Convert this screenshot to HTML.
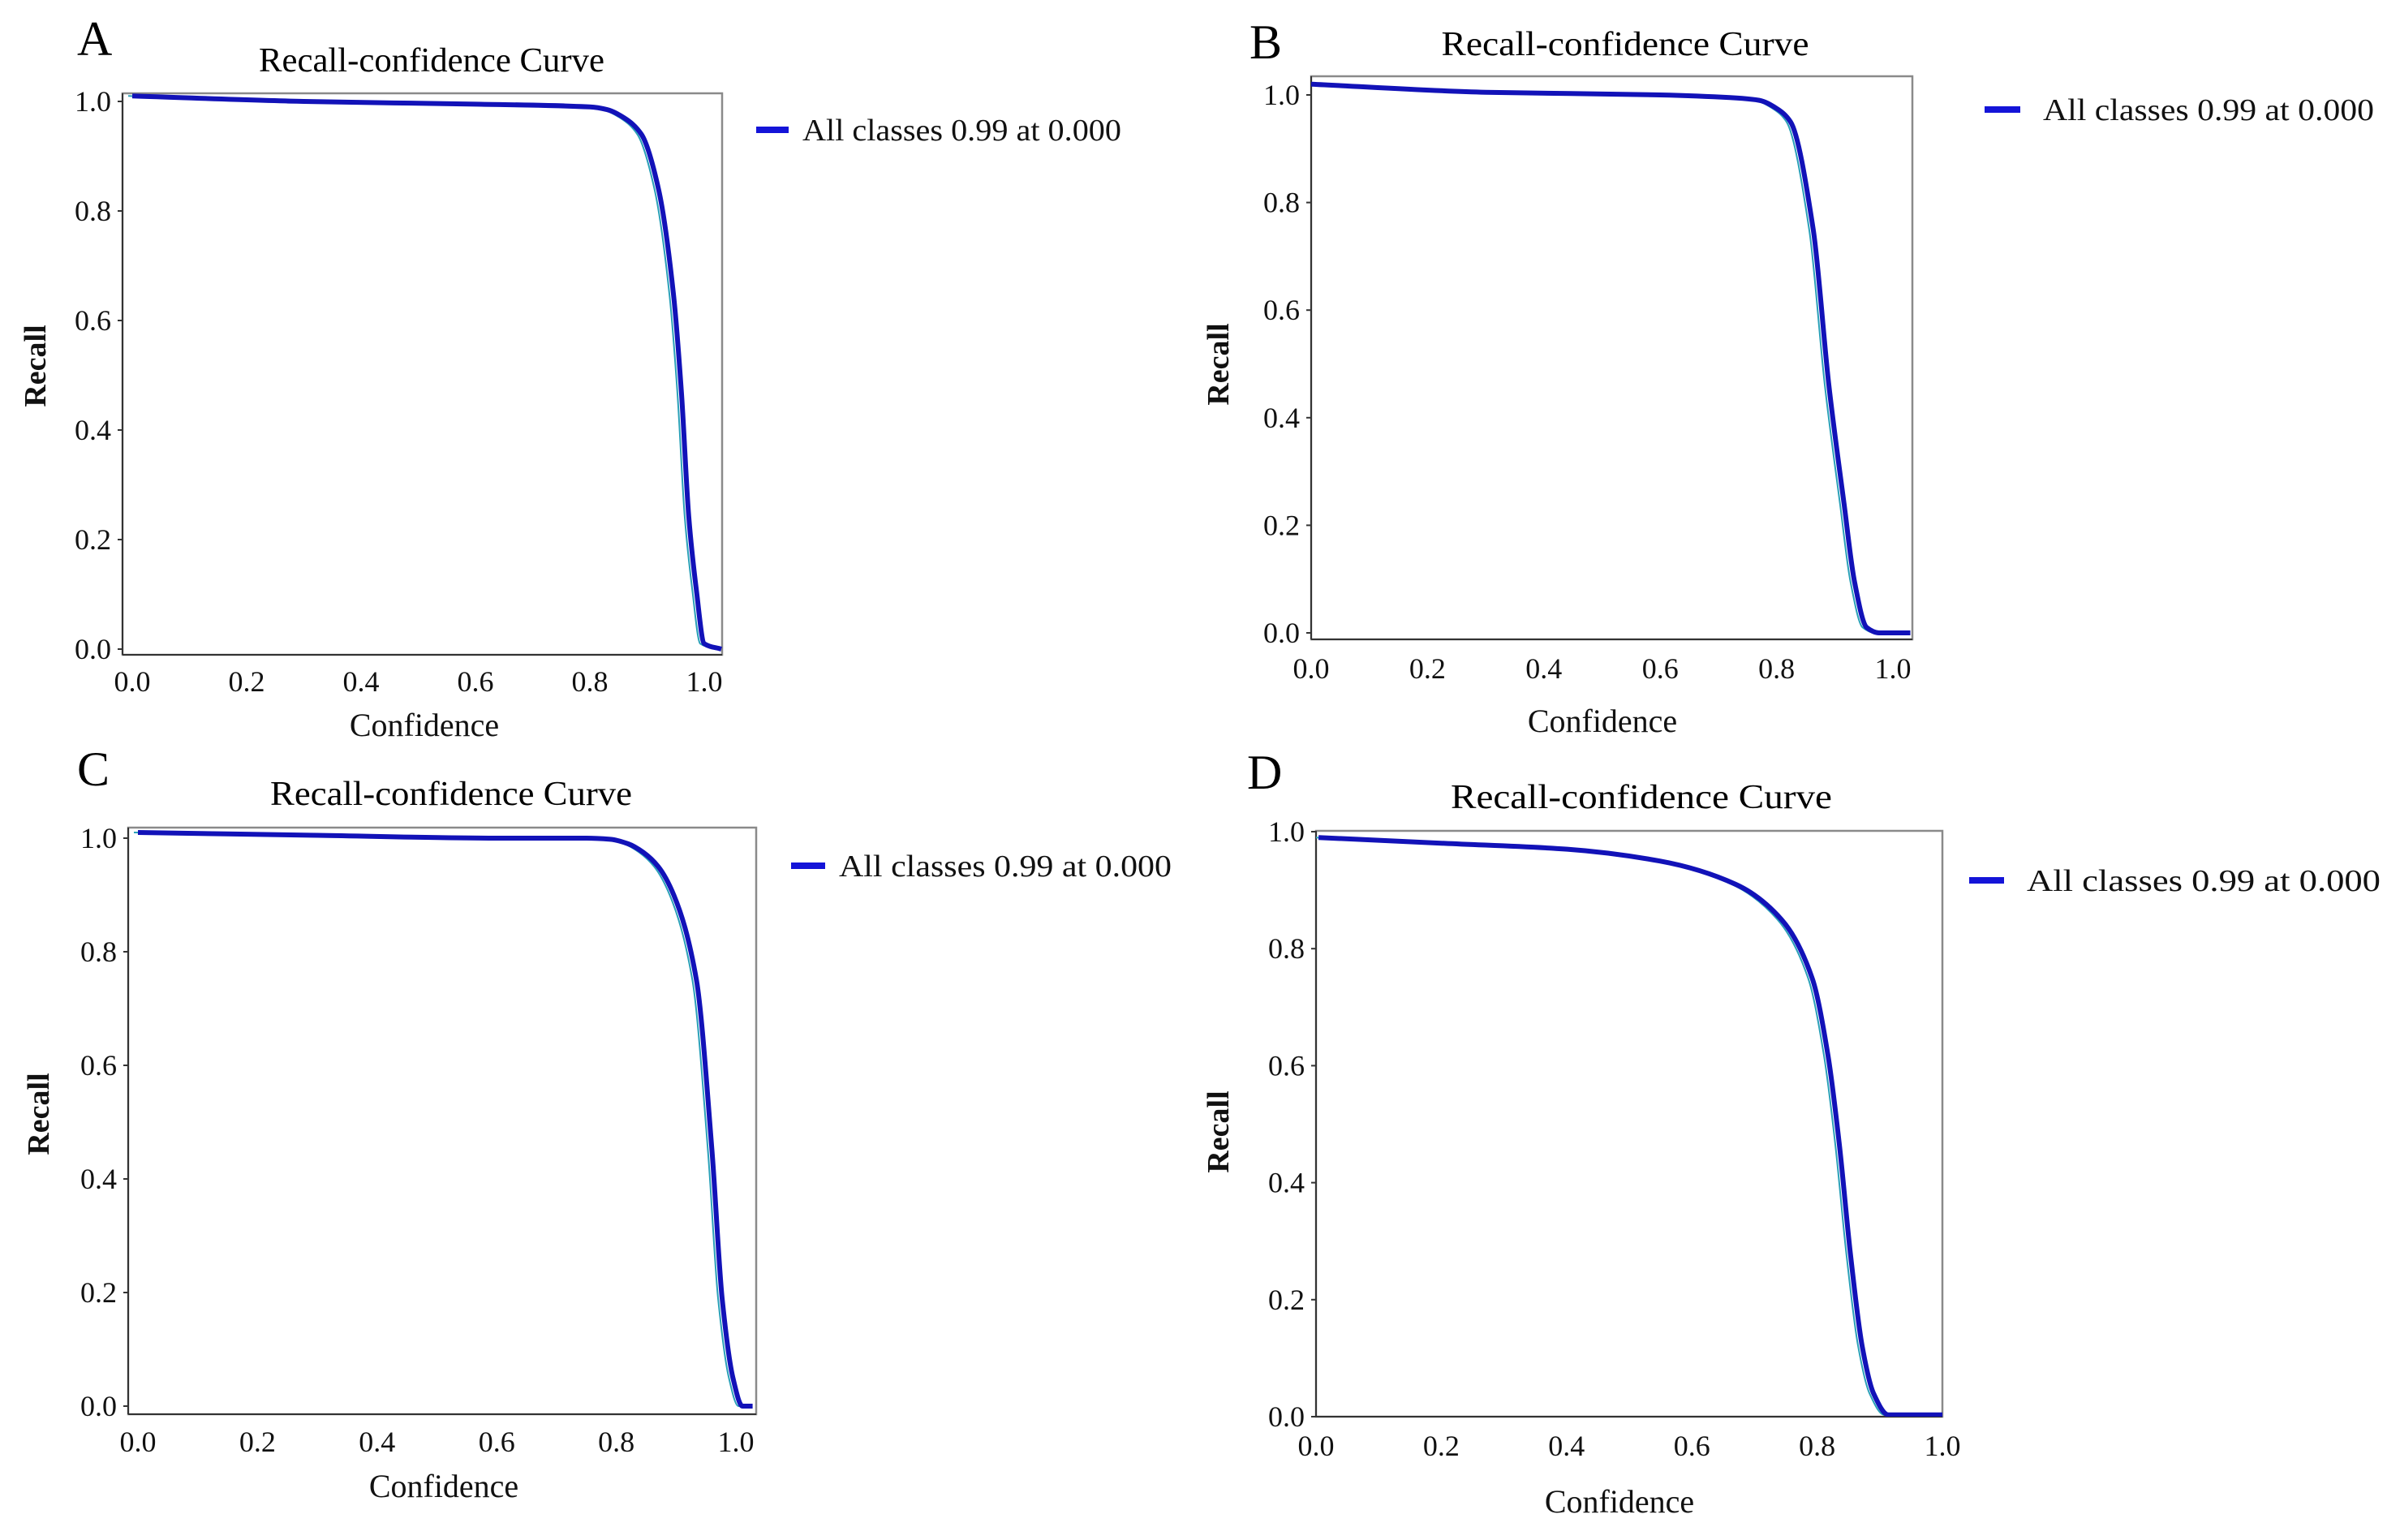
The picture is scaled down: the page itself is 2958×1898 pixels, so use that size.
<!DOCTYPE html>
<html><head><meta charset="utf-8"><style>
html,body{margin:0;padding:0;background:#fff;}
svg{display:block;font-family:"Liberation Serif",serif;}
</style></head><body>
<svg id="fig" width="2958" height="1898" viewBox="0 0 2958 1898" xmlns="http://www.w3.org/2000/svg"></svg>
<script>
// ---- data (confidence vs recall) ----
const ticks = [0.0, 0.2, 0.4, 0.6, 0.8, 1.0];
const tickLabels = ["0.0","0.2","0.4","0.6","0.8","1.0"];
const panelLetters = ["A","B","C","D"];
const legendLabel = "All classes 0.99 at 0.000";
const confA = [0, 0.3, 0.6, 0.8, 0.83, 0.86, 0.89, 0.92, 0.946, 0.96, 0.973, 0.986, 1.0, 1.03];
const recallA = [1.01, 1.0, 0.995, 0.99, 0.985, 0.97, 0.94, 0.84, 0.65, 0.47, 0.24, 0.11, 0.01, 0.0];
const confB = [0, 0.3, 0.6, 0.72, 0.77, 0.8, 0.824, 0.863, 0.89, 0.916, 0.934, 0.955, 0.976, 1.0, 1.03];
const recallB = [1.02, 1.005, 1.0, 0.995, 0.99, 0.975, 0.95, 0.75, 0.46, 0.24, 0.095, 0.01, 0.0, 0.0, 0.0];
const confC = [0, 0.3, 0.6, 0.75, 0.79, 0.82, 0.845, 0.87, 0.896, 0.934, 0.96, 0.977, 0.995, 1.011, 1.028];
const recallC = [1.01, 1.005, 1.0, 1.0, 0.998, 0.99, 0.975, 0.95, 0.9, 0.75, 0.45, 0.19, 0.05, 0.0, 0.0];
const confD = [0.004, 0.205, 0.401, 0.548, 0.67, 0.743, 0.792, 0.817, 0.835, 0.853, 0.872, 0.89, 0.914, 1.0];
const recallD = [0.99, 0.98, 0.97, 0.95, 0.91, 0.85, 0.75, 0.62, 0.47, 0.28, 0.12, 0.04, 0.003, 0.003];

const panels = [
 {id:"a", box:[151,115,890,807], x0:163,x1:868, y0:800,y1:125, conf:confA, rec:recallA,
  letter:[95,68], title:[532,88,426], leg:[932,972,160,989,393], ylab:[44,451], xlab:[523,907], tickY:852},
 {id:"b", box:[1616,94,2357,788], x0:1616,x1:2333, y0:780,y1:117, conf:confB, rec:recallB,
  letter:[1540,72], title:[2003,68,453], leg:[2446,2490,135,2518,408], ylab:[1502,449], xlab:[1975,902], tickY:836},
 {id:"c", box:[158,1020,932,1743], x0:170,x1:907, y0:1733,y1:1033, conf:confC, rec:recallC,
  letter:[95,968], title:[556,992,446], leg:[975,1017,1067,1034,410], ylab:[48,1373], xlab:[547,1845], tickY:1789},
 {id:"d", box:[1622,1024,2394,1746], x0:1622,x1:2394, y0:1746,y1:1025, conf:confD, rec:recallD,
  letter:[1537,972], title:[2023,996,470], leg:[2427,2470,1085,2498,436], ylab:[1502,1395], xlab:[1996,1864], tickY:1794}
];

const NS = "http://www.w3.org/2000/svg";
const svg = document.getElementById("fig");
function mk(tag, attrs, parent, text){
  const e = document.createElementNS(NS, tag);
  for (const k in attrs) e.setAttribute(k, attrs[k]);
  if (text !== undefined) e.textContent = text;
  (parent||svg).appendChild(e);
  return e;
}
// monotone cubic (Fritsch-Carlson) path through pixel points with increasing x
function monoPath(pts){
  const n = pts.length;
  const dx=[], m=[];
  for (let i=0;i<n-1;i++){ dx.push(pts[i+1][0]-pts[i][0]); m.push((pts[i+1][1]-pts[i][1])/dx[i]); }
  const t = new Array(n);
  t[0]=m[0]; t[n-1]=m[n-2];
  for (let i=1;i<n-1;i++){
    if (m[i-1]*m[i] <= 0) t[i]=0;
    else { const w1=2*dx[i]+dx[i-1], w2=dx[i]+2*dx[i-1]; t[i]=(w1+w2)/(w1/m[i-1]+w2/m[i]); }
  }
  let d = "M"+pts[0][0].toFixed(1)+","+pts[0][1].toFixed(1);
  for (let i=0;i<n-1;i++){
    const h=dx[i];
    const c1=[pts[i][0]+h/3, pts[i][1]+t[i]*h/3];
    const c2=[pts[i+1][0]-h/3, pts[i+1][1]-t[i+1]*h/3];
    d += " C"+c1[0].toFixed(1)+","+c1[1].toFixed(1)+" "+c2[0].toFixed(1)+","+c2[1].toFixed(1)+" "+pts[i+1][0].toFixed(1)+","+pts[i+1][1].toFixed(1);
  }
  return d;
}

panels.forEach((p, idx) => {
  const g = mk("g", {});
  
  
  const sx = v => p.x0 + (p.x1-p.x0)*v;
  const sy = v => p.y0 + (p.y1-p.y0)*v;
  const [L,T,R,B] = p.box;

  const letter = mk("text", {x:p.letter[0], y:p.letter[1], "font-size":60, fill:"#000"}, g, panelLetters[idx]);
  
  

  const title = mk("text", {x:p.title[0]-p.title[2]/2, y:p.title[1], "font-size":42, fill:"#000", textLength:p.title[2], lengthAdjust:"spacingAndGlyphs"}, g, "Recall-confidence Curve");
  
  

  const frame = mk("rect", {x:L, y:T, width:R-L, height:B-T, fill:"#fff", stroke:"#8a8a8a", "stroke-width":2.5}, g);
  
  
  const leftAxis = mk("line", {x1:L, y1:T, x2:L, y2:B, stroke:"#333", "stroke-width":2}, g);
  
  
  const botAxis = mk("line", {x1:L, y1:B, x2:R, y2:B, stroke:"#333", "stroke-width":2}, g);
  
  

  ticks.forEach((t, i) => {
    const xt = mk("text", {x:sx(t), y:p.tickY, "font-size":36, "text-anchor":"middle", fill:"#111"}, g, tickLabels[i]);
    
    
    const yt = mk("text", {x:L-14, y:sy(t)+12, "font-size":36, "text-anchor":"end", fill:"#111"}, g, tickLabels[i]);
    
    
    const tk = mk("line", {x1:L-6, y1:sy(t), x2:L, y2:sy(t), stroke:"#333", "stroke-width":2}, g);
    
    
  });

  const yl = mk("text", {x:p.ylab[0], y:p.ylab[1], "font-size":38, "font-weight":"bold", "text-anchor":"middle", fill:"#111", transform:"rotate(-90 "+p.ylab[0]+" "+p.ylab[1]+")", dy:12}, g, "Recall");
  
  
  const xl = mk("text", {x:p.xlab[0], y:p.xlab[1], "font-size":40, "text-anchor":"middle", fill:"#111"}, g, "Confidence");
  
  

  const pts = p.conf.map((c, i) => [sx(c), sy(p.rec[i])]);
  const clip = mk("clipPath", {id:"clip-"+p.id}, g);
  mk("rect", {x:L, y:T, width:R-L, height:B-T}, clip);
  const thin = mk("path", {d:monoPath(pts.map(q=>[q[0]-5,q[1]])), fill:"none", stroke:"#2aa0b8", "stroke-width":2, "clip-path":"url(#clip-"+p.id+")"}, g);
  
  
  const line = mk("path", {d:monoPath(pts), fill:"none", stroke:"#1212b8", "stroke-width":6, "stroke-linejoin":"round", "clip-path":"url(#clip-"+p.id+")"}, g);
  
  

  const [lx1, lx2, ly, tx, tw] = p.leg;
  const lg = mk("g", {}, g);
  
  
  mk("line", {x1:lx1, y1:ly, x2:lx2, y2:ly, stroke:"#1414d8", "stroke-width":8}, lg);
  mk("text", {x:tx, y:ly+13, "font-size":38, fill:"#111", textLength:tw, lengthAdjust:"spacingAndGlyphs"}, lg, legendLabel);
});
</script>
</body></html>
